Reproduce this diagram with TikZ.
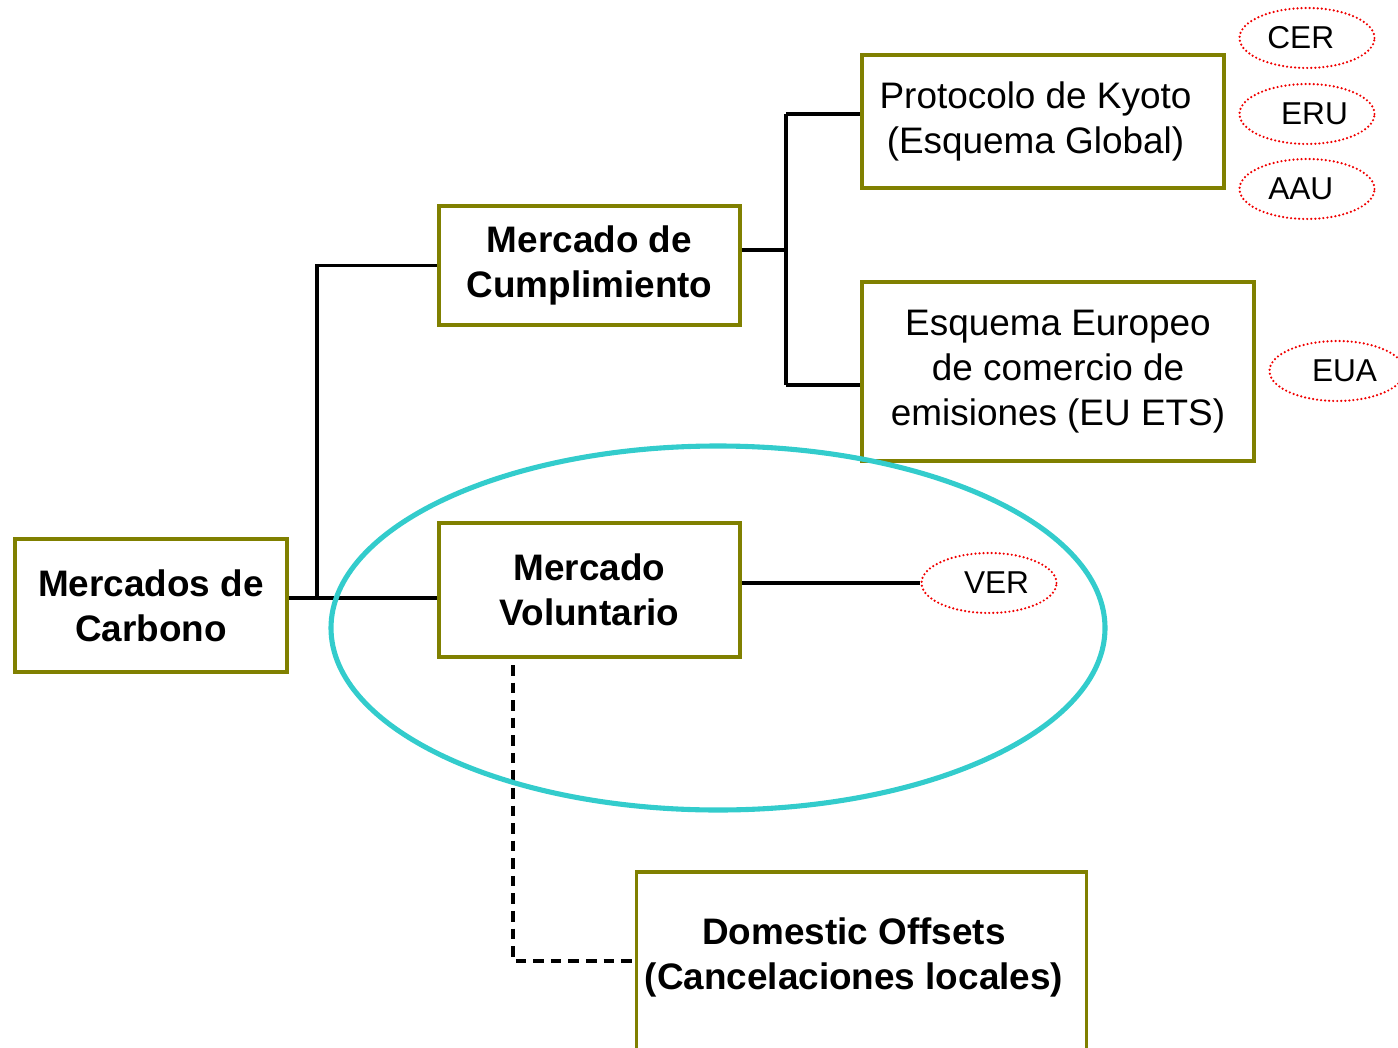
\documentclass[tikz,border=0pt]{standalone}
\usepackage{fontspec}
\setmainfont{Liberation Sans}
\usetikzlibrary{shapes.geometric}
\definecolor{boxolive}{RGB}{128,128,0}
\definecolor{ringcyan}{RGB}{51,204,204}
\definecolor{tagred}{RGB}{240,0,0}

\begin{document}
\begin{tikzpicture}[x=0.02cm,y=-0.02cm,
        box/.style={draw=boxolive, line width=2.1pt, rectangle, align=center, inner sep=0pt,
            font=\fontsize{21}{25.5}\selectfont},
        boldbox/.style={box, font=\fontsize{21}{25.5}\selectfont\bfseries},
        tag/.style={draw=tagred, ellipse, dash pattern=on 0pt off 2.3pt, line cap=round,
            line width=1.4pt, minimum width=2.7cm, minimum height=1.2cm, inner sep=0pt,
            font=\fontsize{18}{21}\selectfont},
        link/.style={black, line width=2.1pt}]
    \clip (0,0) rectangle (1398,1047);
    % boxes
    \node [boldbox, minimum width=5.44cm, minimum height=2.66cm] (carb) at (151,605.5) {Mercados de\\Carbono};
    \node [boldbox, minimum width=6.02cm, minimum height=2.38cm] (cump) at (589.5,265.5) {Mercado de\\Cumplimiento};
    \node [boldbox, minimum width=6.02cm, minimum height=2.68cm] (vol) at (589.5,590) {Mercado\\Voluntario};
    \node [box, minimum width=7.24cm, minimum height=2.66cm] (kyoto) at (1043,121.5) {Protocolo de Kyoto\hspace*{0.3cm}\\(Esquema Global)\hspace*{0.3cm}};
    \node [box, minimum width=7.84cm, minimum height=3.58cm] (eur) at (1058,371.5) {Esquema Europeo\\de comercio de\\emisiones (EU ETS)};
    \node [boldbox, minimum width=9cm, minimum height=4.15cm] (dom) at (861.5,976) {Domestic Offsets\rule{0.3cm}{0pt}\\(Cancelaciones locales)\rule{0.3cm}{0pt}\\\mbox{}};
    % units
    \node [tag] (cer) at (1307,38) {CER\hspace*{0.25cm}};
    \node [tag] (eru) at (1307,114) {\hspace*{0.3cm}ERU};
    \node [tag] (aau) at (1307,189) {AAU\hspace*{0.25cm}};
    \node [tag] (eua) at (1337,371) {\hspace*{0.3cm}EUA};
    \node [tag] (ver) at (989,583) {\hspace*{0.3cm}VER};
    % junctions
    \coordinate (j1) at (317,598);
    \coordinate (j2) at (786,250);
    \coordinate (kyj) at (786,114);
    \coordinate (euj) at (786,385);
    \coordinate (dj) at (513,961);
    % connectors
    \draw [link] (carb.east |- j1) -- (vol.west |- j1);
    \draw [link] (j1) |- (cump.west);
    \draw [link] (cump.east |- j2) -- (j2);
    \draw [link] (kyj) -- (euj);
    \draw [link] (kyj) -- (kyj -| kyoto.west);
    \draw [link] (euj) -- (euj -| eur.west);
    \draw [link] (vol.east |- ver.west) -- (ver.west);
    \draw [link, dash pattern=on 6pt off 4pt] (dj |- 0,665) -- (dj) -- (dj -| dom.west);
    % voluntary market ring
    \draw [ringcyan, line width=2.9pt] (718,628) ellipse [x radius=387, y radius=182];
\end{tikzpicture}
\end{document}
